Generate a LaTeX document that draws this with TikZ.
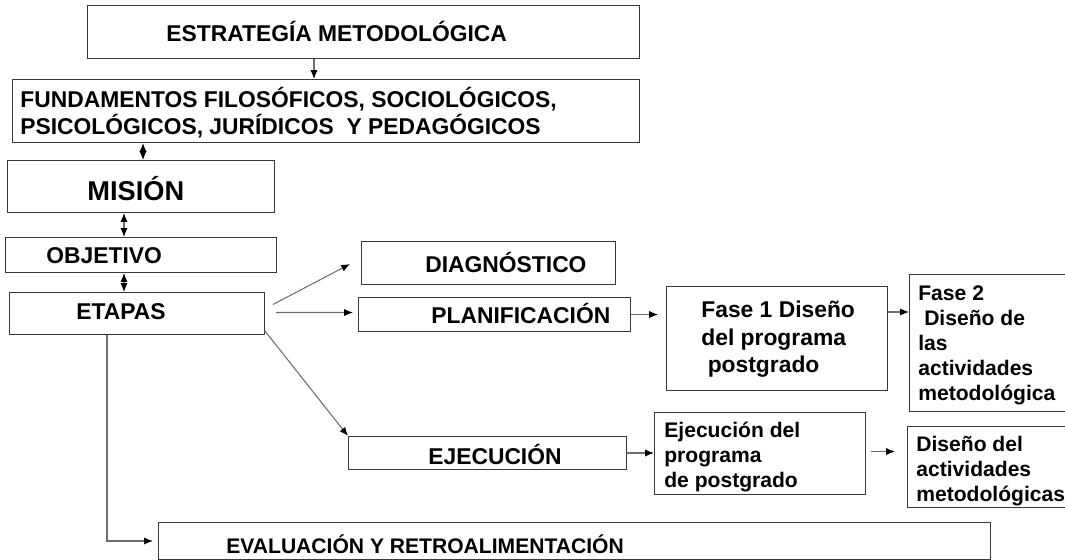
\documentclass[tikz,border=0pt]{standalone}
\usepackage{fontspec}
\setmainfont{Liberation Sans}
\usetikzlibrary{arrows.meta,calc}
\definecolor{Frame}{HTML}{3A3A3A}
\definecolor{Wire}{HTML}{6E6E6E}

\begin{document}
\begin{tikzpicture}[x=0.02cm,y=-0.02cm,
    box/.style={draw=Frame,line width=0.6pt,inner sep=0pt,anchor=north west},
    lbl/.style={font=\bfseries\fontsize{13}{15.9}\selectfont,anchor=base west,inner sep=0pt,align=left},
    sml/.style={lbl,font=\bfseries\fontsize{12}{14.2}\selectfont},
    tip/.tip={Latex[length=5pt,width=4pt,color=black]},
    link/.style={draw=Wire,line width=0.6pt,-tip},
    both/.style={link,tip-tip}]
    \useasboundingbox (0,0) rectangle (1065,560);

    % frames
    \node[box,minimum width=11.04cm,minimum height=1.06cm] (estr) at (87,5) {};
    \node[box,minimum width=12.54cm,minimum height=1.26cm] (fund) at (12,79) {};
    \node[box,minimum width=5.34cm,minimum height=1.04cm] (mision) at (7,160) {};
    \node[box,minimum width=5.42cm,minimum height=0.70cm] (obj) at (5,237) {};
    \node[box,minimum width=5.10cm,minimum height=0.84cm] (etapas) at (9,292) {};
    \node[box,minimum width=5.08cm,minimum height=0.86cm] (diag) at (361,241) {};
    \node[box,minimum width=5.44cm,minimum height=0.68cm] (plan) at (358,297) {};
    \node[box,minimum width=4.42cm,minimum height=2.08cm] (fase1) at (666,286) {};
    \node[box,minimum width=3.40cm,minimum height=2.74cm] (fase2) at (909,274) {};
    \node[box,minimum width=5.56cm,minimum height=0.66cm] (ejec) at (348,436) {};
    \node[box,minimum width=4.22cm,minimum height=1.64cm] (ejprog) at (654,412) {};
    \node[box,minimum width=3.40cm,minimum height=1.62cm] (disdel) at (907,426) {};
    \node[box,minimum width=16.64cm,minimum height=0.74cm] (eval) at (158,522) {};

    % texts (base of the last line)
    \node[lbl] (estr-t) at (166,42) {ESTRATEGÍA METODOLÓGICA};
    \node[lbl] (fund-t) at (20,135)
      {FUNDAMENTOS FILOSÓFICOS, SOCIOLÓGICOS,\\PSICOLÓGICOS, JURÍDICOS\ \ Y PEDAGÓGICOS};
    \node[lbl,font=\bfseries\fontsize{15.5}{18}\selectfont] (mision-t) at (87,201) {MISIÓN};
    \node[lbl] (obj-t) at (46,264) {OBJETIVO};
    \node[lbl] (etapas-t) at (76,320) {ETAPAS};
    \node[lbl] (diag-t) at (425,273) {DIAGNÓSTICO};
    \node[lbl] (plan-t) at (431,324) {PLANIFICACIÓN};
    \node[lbl] (ejec-t) at (428,464) {EJECUCIÓN};
    \node[sml] (eval-t) at (226,553) {EVALUACIÓN Y RETROALIMENTACIÓN};
    \node[lbl] (fase1-t) at (701,373) {Fase 1 Diseño\\del programa\\\hspace*{.28em}postgrado};
    \node[sml] (fase2-t) at (918,400)
      {Fase 2\\\hspace*{.28em}Diseño de\\las\\actividades\\metodológica};
    \node[sml] (ejprog-t) at (664,487) {Ejecución del\\programa\\de postgrado};
    \node[sml] (disdel-t) at (916,501) {Diseño del\\actividades\\metodológicas};

    % connectors
    \draw[link] (314,0 |- estr.south) -- (314,0 |- fund.north);
    \draw[both] (143,0 |- fund.south) -- (143,0 |- mision.north);
    \draw[both] (124,0 |- mision.south) -- (124,0 |- obj.north);
    \draw[both] (124,0 |- obj.south) -- (124,0 |- etapas.north);
    \draw[link] ($(etapas.east)+(8,-9)$) -- ($(diag.west)+(-11,1)$);
    \draw[link] ($(etapas.east)+(11,-1)$) -- ($(plan.west)+(-5,-2)$);
    \draw[link] ($(etapas.south east)+(0,-4)$) -- (ejec.north west);
    \draw[link] (plan.east) -- ($(plan.east -| fase1.west)+(-8,0)$);
    \draw[link] ([yshift=-0.52cm]fase1.north east) coordinate (f1out) -- (f1out -| fase2.west);
    \draw[link] (ejec.east) -- (ejec.east -| ejprog.west);
    \draw[link] ($(ejprog.east)+(5,-2)$) -- ($(ejprog.east -| disdel.west)+(-12,-2)$);
    \draw[link] (107,0 |- etapas.south) |- ($(eval.west)+(-5,0)$);
\end{tikzpicture}
\end{document}
